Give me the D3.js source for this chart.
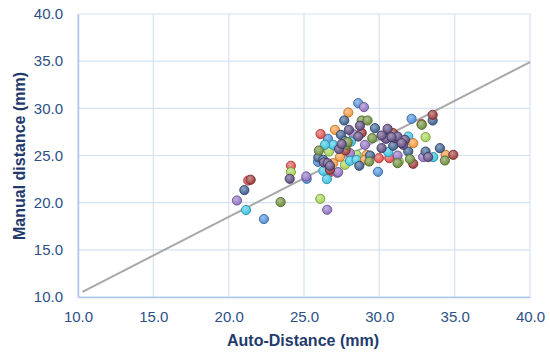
<!DOCTYPE html>
<html>
<head>
<meta charset="utf-8">
<script src="https://cdn.jsdelivr.net/npm/d3@7"></script>
<style>
  body { margin: 0; background: #fff; }
  #chart { width: 550px; height: 353px; }
  .tick text { font-family: "Liberation Sans", Arial, sans-serif; font-size: 15px; fill: #2d5087; }
  .axisLabel { font-family: "Liberation Sans", Arial, sans-serif; font-size: 16px; font-weight: bold; fill: #1f3b6c; }
</style>
</head>
<body>
<div id="chart"></div>
<script>
// tick values for both axes
var xTicks = [10, 15, 20, 25, 30, 35, 40];
var yTicks = [10, 15, 20, 25, 30, 35, 40];

// series: [auto-distance, manual distance] (mm), one array per point colour
var blueSeries = [[22.34,18.26],[28.60,30.55],[26.59,26.77],[25.93,24.33],[25.18,22.53],[32.14,28.89],[27.58,25.60],[29.91,23.27]];
var redSeries = [[21.30,22.35],[24.13,23.91],[26.10,27.27],[26.77,23.27],[29.97,24.72],[30.66,24.72],[32.81,28.33],[30.52,27.30]];
var limeSeries = [[24.13,23.24],[26.08,20.41],[26.66,25.42],[28.49,25.07],[33.07,26.95],[31.30,24.36],[27.72,24.01]];
var purpleSeries = [[20.55,20.23],[25.15,22.78],[26.54,19.25],[27.21,23.17],[28.98,30.13],[28.27,27.27],[29.05,26.13],[27.27,23.24],[32.91,24.83],[31.21,25.00],[28.05,25.25]];
var cyanSeries = [[21.15,19.22],[26.52,22.50],[26.28,23.38],[28.12,26.48],[26.94,26.13],[30.59,25.36],[28.05,24.44],[31.92,27.01],[33.58,24.83],[28.49,24.54],[26.39,26.13]];
var orangeSeries = [[27.94,29.55],[27.05,27.72],[29.16,25.07],[32.25,26.31],[34.40,25.07],[27.39,24.86],[26.94,24.19],[29.04,24.54]];
var darkBlueSeries = [[21.04,21.33],[25.95,24.79],[27.67,28.71],[29.71,27.90],[27.45,27.19],[30.92,26.03],[29.38,25.00],[28.67,23.91],[33.54,28.71],[34.02,25.78],[33.07,25.42],[31.92,25.42],[26.28,24.54],[27.72,26.53]];
var darkRedSeries = [[21.46,22.43],[27.76,25.53],[30.92,27.37],[33.54,29.31],[34.91,25.07],[32.25,24.12],[26.72,23.49],[28.83,27.40]];
var oliveSeries = [[23.45,20.06],[25.99,25.53],[28.83,28.71],[29.22,28.71],[29.53,26.84],[27.82,26.13],[29.33,24.36],[31.21,24.19],[32.81,28.26],[34.35,24.47],[32.03,24.62],[27.90,26.42]];
var darkPurpleSeries = [[24.05,22.53],[26.32,24.26],[28.71,28.15],[27.98,27.72],[30.55,27.83],[28.60,27.01],[30.42,26.84],[31.04,26.84],[30.15,25.78],[27.32,25.68],[26.57,24.19],[26.72,23.91],[31.21,27.01],[31.70,26.66],[31.59,26.13],[33.24,24.83],[31.48,26.31],[30.44,26.77],[27.50,26.21],[30.15,27.12],[30.81,26.95]];

// linear trendline
var trendSlope = 0.82;
var trendIntercept = 2.1;
var trendRange = [10.3, 40];

var seriesList = [
  {name: "blue", color: "#4f8fd8", values: blueSeries},
  {name: "red", color: "#e0504d", values: redSeries},
  {name: "lime", color: "#a6d455", values: limeSeries},
  {name: "purple", color: "#9272c4", values: purpleSeries},
  {name: "cyan", color: "#3cc4e4", values: cyanSeries},
  {name: "orange", color: "#f89a40", values: orangeSeries},
  {name: "darkblue", color: "#3d5f90", values: darkBlueSeries},
  {name: "darkred", color: "#9c3b39", values: darkRedSeries},
  {name: "olive", color: "#6e8f3c", values: oliveSeries},
  {name: "darkpurple", color: "#5e4b80", values: darkPurpleSeries}
];

var width = 550;
var height = 353;
var margin = {top: 14, left: 78, right: 20, bottom: 56};

var svg = d3.select("#chart")
  .append("svg")
  .attr("width", width)
  .attr("height", height);

var xScale = d3.scaleLinear()
  .domain([10, 40])
  .range([margin.left, width - margin.right]);

var yScale = d3.scaleLinear()
  .domain([10, 40])
  .range([height - margin.bottom, margin.top]);

// gradients for the shaded markers
var defs = svg.append("defs");
seriesList.forEach(function(s) {
  var g = defs.append("radialGradient")
    .attr("id", "grad-" + s.name)
    .attr("cx", "40%").attr("cy", "35%").attr("r", "65%");
  g.append("stop").attr("offset", "0%").attr("stop-color", d3.interpolateRgb(s.color, "#fff")(0.45));
  g.append("stop").attr("offset", "100%").attr("stop-color", s.color);
});

// grid
svg.append("g")
  .selectAll("line.hgrid")
  .data(yTicks)
  .join("line")
  .attr("x1", xScale(10)).attr("x2", xScale(40))
  .attr("y1", function(d) { return yScale(d); })
  .attr("y2", function(d) { return yScale(d); })
  .attr("stroke", "#d6e2f3").attr("stroke-width", 1.2);

svg.append("g")
  .selectAll("line.vgrid")
  .data(xTicks)
  .join("line")
  .attr("x1", function(d) { return xScale(d); })
  .attr("x2", function(d) { return xScale(d); })
  .attr("y1", yScale(10)).attr("y2", yScale(40))
  .attr("stroke", "#d6e2f3").attr("stroke-width", 1.2);

// axes
var xAxis = svg.append("g")
  .attr("class", "axis")
  .attr("transform", `translate(0,${yScale(10)})`)
  .call(d3.axisBottom(xScale).tickValues(xTicks).tickFormat(d3.format(".1f")).tickSize(0).tickPadding(14));

var yAxis = svg.append("g")
  .attr("class", "axis")
  .attr("transform", `translate(${xScale(10)},0)`)
  .call(d3.axisLeft(yScale).tickValues(yTicks).tickFormat(d3.format(".1f")).tickSize(0).tickPadding(15));

svg.selectAll(".axis path.domain").attr("stroke", "#adc6ea").attr("stroke-width", 1.5);

// trendline
svg.append("line")
  .attr("x1", xScale(trendRange[0]))
  .attr("y1", yScale(trendSlope * trendRange[0] + trendIntercept))
  .attr("x2", xScale(trendRange[1]))
  .attr("y2", yScale(trendSlope * trendRange[1] + trendIntercept))
  .attr("stroke", "#a8a8a8")
  .attr("stroke-width", 2);

// points
seriesList.forEach(function(s) {
  svg.append("g")
    .selectAll("circle")
    .data(s.values)
    .join("circle")
    .attr("cx", function(d) { return xScale(d[0]); })
    .attr("cy", function(d) { return yScale(d[1]); })
    .attr("r", 4.6)
    .attr("fill", "url(#grad-" + s.name + ")")
    .attr("stroke", d3.color(s.color).darker(0.9))
    .attr("stroke-width", 0.9);
});

// axis titles
svg.append("text")
  .attr("class", "axisLabel")
  .attr("x", 303)
  .attr("y", 346)
  .attr("text-anchor", "middle")
  .text("Auto-Distance (mm)");

svg.append("text")
  .attr("class", "axisLabel")
  .attr("transform", "rotate(-90)")
  .attr("x", -156)
  .attr("y", 25)
  .attr("text-anchor", "middle")
  .text("Manual distance (mm)");
</script>
</body>
</html>
